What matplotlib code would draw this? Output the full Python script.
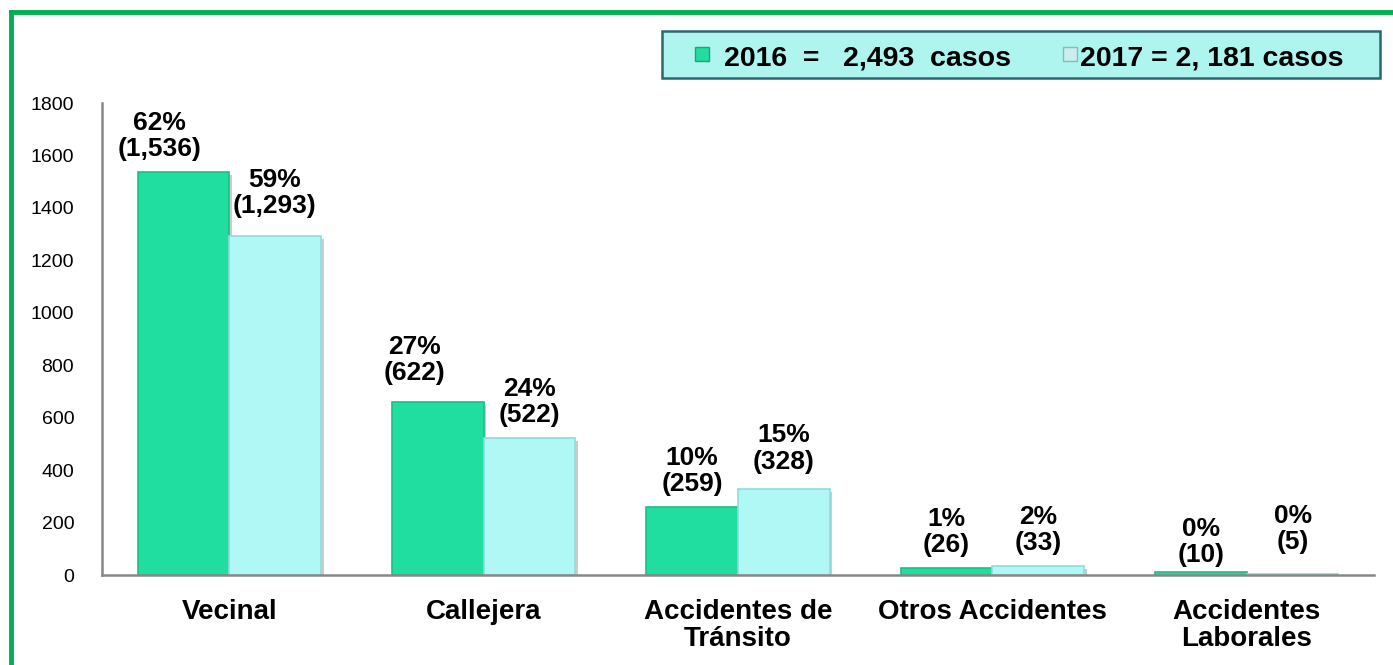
import matplotlib
matplotlib.use("Agg")
import matplotlib.pyplot as plt
import matplotlib.patheffects as pe
from matplotlib.lines import Line2D
from matplotlib.patches import Rectangle
import numpy as np

plt.rcParams['font.family'] = ['Liberation Sans', 'DejaVu Sans']

# data (bar heights as drawn; labels as printed)
categories = ["Vecinal", "Callejera", "Accidentes de\nTránsito", "Otros Accidentes", "Accidentes\nLaborales"]
cases_2016 = [1536, 660, 259, 26, 10]
cases_2017 = [1293, 522, 328, 33, 5]
pct_2016 = ["62%", "27%", "10%", "1%", "0%"]
pct_2017 = ["59%", "24%", "15%", "2%", "0%"]
count_2016 = ["(1,536)", "(622)", "(259)", "(26)", "(10)"]
count_2017 = ["(1,293)", "(522)", "(328)", "(33)", "(5)"]
legend_labels = ["2016  =   2,493  casos", "2017 = 2, 181 casos"]
yticks = [0, 200, 400, 600, 800, 1000, 1200, 1400, 1600, 1800]

# label nudges (points)
dx_2016 = [-17, -17, 0, 0, 0]
dy_2016 = [8, 12, 8, 8, 4]
dy_2017 = [13, 8, 11, 8, 14]

c2016 = "#20DEA0"
c2017 = "#B0F8F6"

W, H = 1393, 665
fig = plt.figure(figsize=(W / 100, H / 100), dpi=100)
ax = fig.add_axes([0.0732, 0.1353, 0.9132, 0.7097])

x = np.arange(len(categories))
w = 0.36
shadow = [pe.withSimplePatchShadow(offset=(2, -2), shadow_rgbFace="#999999", alpha=0.5)]
b1 = ax.bar(x - w / 2, cases_2016, w, color=c2016, edgecolor="#18C08A", linewidth=1.2,
            path_effects=shadow)
b2 = ax.bar(x + w / 2, cases_2017, w, color=c2017, edgecolor="#90DCDC", linewidth=1.2,
            path_effects=shadow)

for i in range(len(categories)):
    ax.annotate(pct_2016[i] + "\n" + count_2016[i], (x[i] - w / 2, cases_2016[i]),
                xytext=(dx_2016[i], dy_2016[i]), textcoords="offset points", ha="center", va="bottom",
                fontsize=19, fontweight="bold", linespacing=1.12)
    ax.annotate(pct_2017[i] + "\n" + count_2017[i], (x[i] + w / 2, cases_2017[i]),
                xytext=(0, dy_2017[i]), textcoords="offset points", ha="center", va="bottom",
                fontsize=19, fontweight="bold", linespacing=1.12)

ax.set_xlim(-0.5, len(categories) - 0.5)
ax.set_ylim(0, 1800)
ax.set_yticks(yticks)
ax.set_yticklabels([str(t) for t in yticks], fontsize=14)
ax.set_xticks(x)
ax.set_xticklabels(categories, fontsize=20, fontweight="bold", linespacing=1.08)
ax.tick_params(axis="y", length=0, pad=20)
ax.tick_params(axis="x", length=0, pad=17)
for s in ["top", "right"]:
    ax.spines[s].set_visible(False)
for s in ["left", "bottom"]:
    ax.spines[s].set_color("#888888")
    ax.spines[s].set_linewidth(1.8)


# legend box drawn by hand (pixel positions converted to figure fractions)
def fx(px):
    return px / W


def fy(py):
    return 1 - py / H


fig.add_artist(Rectangle((fx(662), fy(78)), fx(1380) - fx(662), fy(31) - fy(78),
                         transform=fig.transFigure, facecolor="#AEF5F0",
                         edgecolor="#2E6670", linewidth=1.8))
fig.add_artist(Rectangle((fx(695), fy(61)), fx(14), 14 / H, transform=fig.transFigure,
                         facecolor=c2016, edgecolor="#17A878", linewidth=1))
fig.add_artist(Rectangle((fx(1063), fy(61)), fx(14), 14 / H, transform=fig.transFigure,
                         facecolor="#C8EEEE", edgecolor="#8AB8BC", linewidth=1))
fig.text(fx(724), fy(55), legend_labels[0], fontsize=20.5, fontweight="bold",
         ha="left", va="center_baseline")
fig.text(fx(1080), fy(55), legend_labels[1], fontsize=20.5, fontweight="bold",
         ha="left", va="center_baseline")

# green frame at top and left
fig.add_artist(Line2D([0.0079, 0.0079], [0.0, 0.982], color="#00B050", linewidth=3.5,
                      transform=fig.transFigure))
fig.add_artist(Line2D([0.0079, 1.0], [0.982, 0.982], color="#00B050", linewidth=3.5,
                      transform=fig.transFigure))

fig.savefig("out.png", dpi=100)
